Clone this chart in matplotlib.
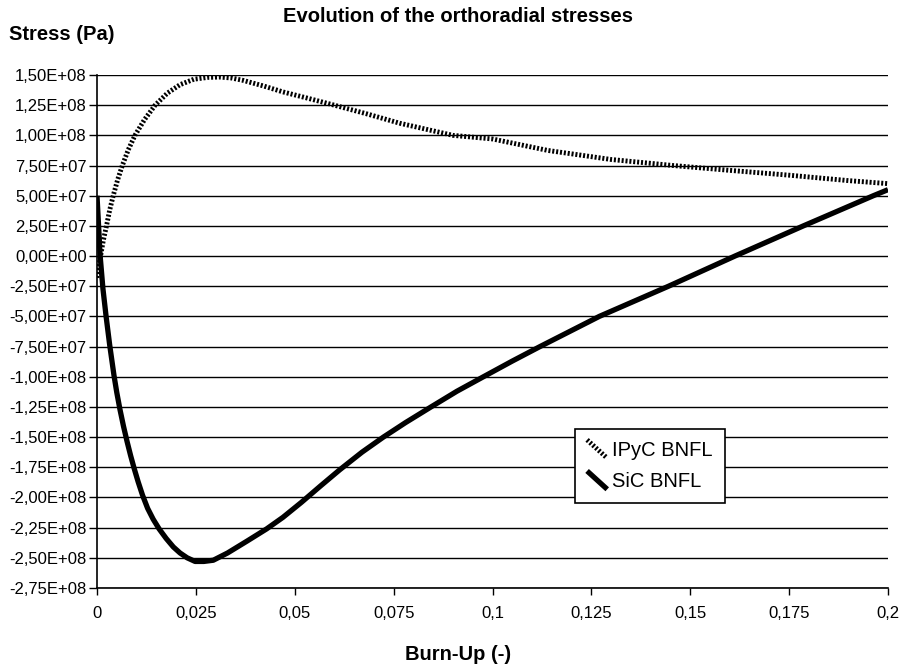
import matplotlib
matplotlib.use("Agg")
import matplotlib.pyplot as plt
from matplotlib.lines import Line2D
from matplotlib.legend_handler import HandlerBase
from matplotlib.ticker import FixedLocator, FuncFormatter

plt.rcParams['font.family'] = ['Liberation Sans', 'DejaVu Sans']

# Burn-up (-) and orthoradial stress (Pa) for the two layers
burnup_ipyc = [0.0, 0.0005, 0.0009, 0.0016, 0.0024, 0.0032, 0.0041, 0.0052,
               0.0064, 0.0079, 0.0096, 0.012, 0.0147, 0.0178, 0.021, 0.0245,
               0.028, 0.031, 0.034, 0.037, 0.042, 0.047, 0.053, 0.06, 0.068,
               0.0766, 0.09, 0.1, 0.114, 0.13, 0.1457, 0.16, 0.175, 0.19, 0.2]
stress_ipyc = [-1.8e7, -8e6, 0.0, 1.3e7, 2.5e7, 3.8e7, 5.0e7, 6.3e7,
               7.5e7, 8.8e7, 1.0e8, 1.13e8, 1.25e8, 1.35e8, 1.42e8, 1.465e8,
               1.48e8, 1.483e8, 1.475e8, 1.455e8, 1.41e8, 1.36e8, 1.31e8, 1.25e8, 1.18e8,
               1.1e8, 1.0e8, 9.7e7, 8.75e7, 8.0e7, 7.5e7, 7.1e7, 6.7e7, 6.25e7, 6.0e7]

burnup_sic = [0.0, 0.0008, 0.0015, 0.0023, 0.0032, 0.0043, 0.005, 0.0058,
              0.0067, 0.0076, 0.0085, 0.0094, 0.0104, 0.0115, 0.0128, 0.0142,
              0.0157, 0.0175, 0.0193, 0.021, 0.0228, 0.0248, 0.027, 0.0294,
              0.033, 0.038, 0.0429, 0.047, 0.0517, 0.0565, 0.0614, 0.067,
              0.0724, 0.078, 0.0842, 0.091, 0.0977, 0.105, 0.112, 0.127,
              0.1445, 0.1613, 0.1786, 0.1963, 0.2]
stress_sic = [5.0e7, 0.0, -2.7e7, -5.0e7, -7.35e7, -9.9e7, -1.13e8, -1.27e8,
              -1.41e8, -1.536e8, -1.653e8, -1.76e8, -1.87e8, -1.98e8, -2.09e8, -2.18e8,
              -2.26e8, -2.34e8, -2.41e8, -2.46e8, -2.5e8, -2.53e8, -2.53e8, -2.52e8,
              -2.46e8, -2.36e8, -2.26e8, -2.165e8, -2.04e8, -1.905e8, -1.77e8, -1.625e8,
              -1.5e8, -1.38e8, -1.255e8, -1.12e8, -1.0e8, -8.7e7, -7.5e7, -5.0e7,
              -2.5e7, 0.0, 2.5e7, 5.0e7, 5.5e7]

series_labels = ['IPyC BNFL', 'SiC BNFL']

y_ticks = [1.5e8 - 2.5e7 * i for i in range(18)]
x_ticks = [0, 0.025, 0.05, 0.075, 0.1, 0.125, 0.15, 0.175, 0.2]
x_tick_labels = ['0', '0,025', '0,05', '0,075', '0,1', '0,125', '0,15', '0,175', '0,2']


class DiagonalHandler(HandlerBase):
    # legend key drawn as a short diagonal stroke
    def create_artists(self, legend, orig_handle, xdescent, ydescent,
                       width, height, fontsize, trans):
        line = Line2D([0, width], [height * 1.15, -height * 0.15])
        line.update_from(orig_handle)
        line.set_transform(trans)
        return [line]


fig = plt.figure(figsize=(9.01, 6.70), dpi=100)
ax = fig.add_axes([97 / 901, 1 - 588 / 670, 791 / 901, 513 / 670])

for v in y_ticks:
    ax.axhline(v, color='black', lw=1.0, zorder=1)

l_sic, = ax.plot(burnup_sic, stress_sic, color='black', lw=3.8,
                 solid_capstyle='butt', solid_joinstyle='round', zorder=3)
l_ipyc, = ax.plot(burnup_ipyc, stress_ipyc, color='black', lw=3.5,
                  linestyle=(0, (0.42, 0.38)), dash_capstyle='butt', zorder=4)

ax.set_xlim(0, 0.2)
ax.set_ylim(-2.75e8, 1.5e8)

ax.xaxis.set_major_locator(FixedLocator(x_ticks))
ax.set_xticklabels(x_tick_labels)
ax.yaxis.set_major_locator(FixedLocator(y_ticks))
ax.yaxis.set_major_formatter(FuncFormatter(lambda v, p: f"{v:.2E}".replace('.', ',')))

ax.tick_params(axis='y', direction='out', length=6, width=1.0, pad=1.5, labelsize=12)
ax.tick_params(axis='x', direction='out', length=5, width=1.0, pad=8, labelsize=12)

for side in ['top', 'right']:
    ax.spines[side].set_visible(False)
for side in ['left', 'bottom']:
    ax.spines[side].set_linewidth(1.2)

leg = ax.legend([l_ipyc, l_sic], series_labels,
                handler_map={Line2D: DiagonalHandler()},
                loc='upper left', bbox_to_anchor=((575 - 97) / 791, (588 - 429) / 513),
                borderaxespad=0, fontsize=14.5, handlelength=1.0,
                handletextpad=0.25, borderpad=0.6, labelspacing=0.6,
                fancybox=False, framealpha=1, edgecolor='black')
leg.get_frame().set_linewidth(1.2)

fig.text(458 / 901, 1 - 17 / 670, 'Evolution of the orthoradial stresses',
         ha='center', va='center', fontsize=14.5, fontweight='bold')
fig.text(9 / 901, 1 - 35 / 670, 'Stress (Pa)', ha='left', va='center',
         fontsize=14.5, fontweight='bold')
fig.text(458 / 901, 1 - 655 / 670, 'Burn-Up (-)', ha='center', va='center',
         fontsize=14.5, fontweight='bold')

fig.savefig('out.png', dpi=100)
